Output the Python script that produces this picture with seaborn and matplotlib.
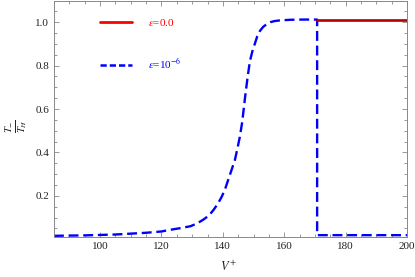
import numpy as np
import pandas as pd
import seaborn as sns
import matplotlib.pyplot as plt
from matplotlib.lines import Line2D
from matplotlib.ticker import MultipleLocator

# blue dashed curve, eps = 1e-6
v_blue = [85, 95, 105, 115, 120, 123, 126, 129.4, 131.5, 133.7, 135.5, 136.9, 138.3,
          139.6, 140.7, 141.7, 142.8, 143.9, 144.7, 145.5, 146.3, 147.2, 148.0, 148.8,
          149.6, 150.4, 151.2, 152.1, 153.1, 154.2, 155.5, 156.8, 158.5, 162, 166,
          170.7, 170.7, 180, 190, 200]
t_blue = [0.016, 0.018, 0.022, 0.030, 0.036, 0.044, 0.051, 0.060, 0.072, 0.091, 0.110,
          0.134, 0.162, 0.195, 0.230, 0.272, 0.318, 0.364, 0.415, 0.470, 0.540, 0.650,
          0.740, 0.820, 0.865, 0.900, 0.935, 0.960, 0.978, 0.990, 1.000, 1.005, 1.008,
          1.011, 1.012, 1.012, 0.019, 0.019, 0.019, 0.019]
# red solid line, eps = 0.0
v_red = [170.7, 200]
t_red = [1.012, 1.012]

labels = [r'$\epsilon$=0.0', r'$\epsilon$=10$^{-6}$']

sns.set_style('ticks')
plt.rcParams['font.family'] = ['Liberation Serif', 'DejaVu Serif']
plt.rcParams['mathtext.fontset'] = 'stix'

fig = plt.figure(figsize=(4.15, 2.77), dpi=100)
ax = fig.add_axes([0.130, 0.144, 0.851, 0.852])

df_blue = pd.DataFrame({'V': v_blue, 'T': t_blue})
df_red = pd.DataFrame({'V': v_red, 'T': t_red})
sns.lineplot(data=df_blue, x='V', y='T', sort=False, estimator=None, ax=ax,
             color='#0000ff', lw=1.7, dashes=False, linestyle=(0, (4.2, 2.0)))
sns.lineplot(data=df_red, x='V', y='T', sort=False, estimator=None, ax=ax,
             color='#b40000', lw=1.9)

ax.set_xlim(85, 200)
ax.set_ylim(0.01, 1.097)
ax.xaxis.set_major_locator(MultipleLocator(20))
ax.xaxis.set_minor_locator(MultipleLocator(5))
ax.set_yticks([0.2, 0.4, 0.6, 0.8, 1.0])
ax.set_yticklabels(['0.2', '0.4', '0.6', '0.8', '1.0'])
ax.yaxis.set_minor_locator(MultipleLocator(0.05))
ax.tick_params(which='both', direction='in', top=True, right=True, colors='#888888',
               labelcolor='#222222', labelsize=8, width=0.6)
ax.tick_params(which='major', length=3.5)
ax.tick_params(which='minor', length=2)
for s in ax.spines.values():
    s.set_color('#888888')
    s.set_linewidth(0.7)

ax.set_xlabel(r'$V^{+}$', fontsize=9, color='#222222')
ax.set_ylabel(r'$\frac{T_{-}}{T_{H}}$', fontsize=11, color='#222222', rotation=90)
ax.xaxis.set_label_coords(0.495, -0.095)
ax.yaxis.set_label_coords(-0.072, 0.47)

handles = [Line2D([], [], color='red', lw=2.0),
           Line2D([], [], color='#0000ff', lw=1.8, linestyle=(0, (2.5, 1.2)))]
ax.legend(handles=handles, labels=labels, loc='upper left', bbox_to_anchor=(0.13, 0.934),
          frameon=False, handlelength=2.9, handletextpad=1.4, labelspacing=2.6,
          borderpad=0, borderaxespad=0,
          labelcolor=['red', '#0000ff'], fontsize=8)

fig.savefig('out.png', dpi=100)
